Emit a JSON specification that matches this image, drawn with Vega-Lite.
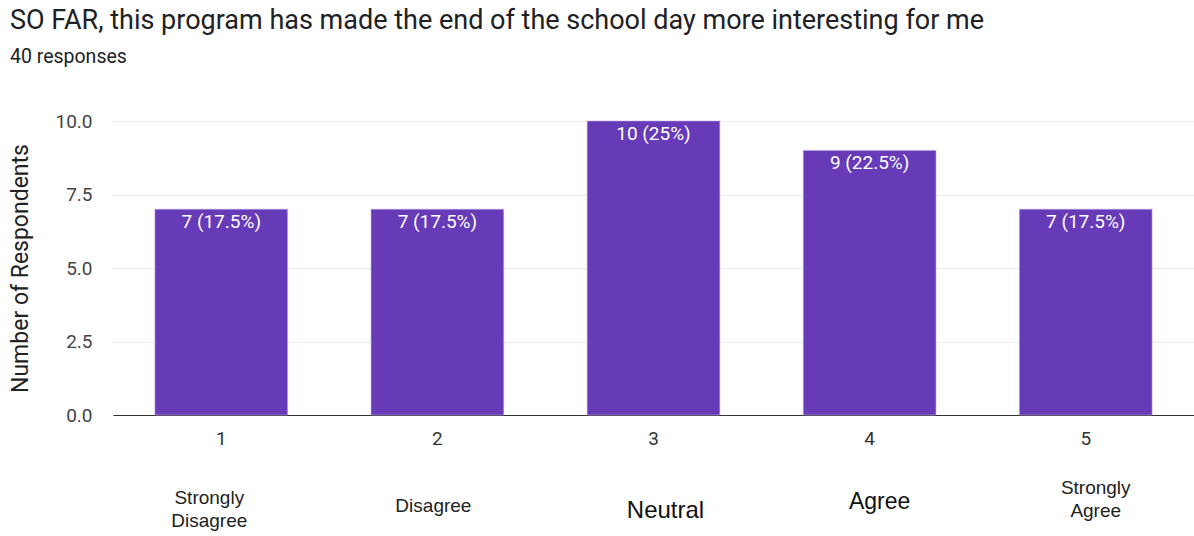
{
  "$schema": "https://vega.github.io/schema/vega-lite/v6.json",
  "autosize": {"type": "none"},
  "width": 1081,
  "height": 294,
  "padding": {"left": 113, "top": 121, "right": 0, "bottom": 121},
  "background": "white",
  "title": {
    "text": "SO FAR, this program has made the end of the school day more interesting for me",
    "subtitle": "40 responses",
    "anchor": "start",
    "frame": "bounds",
    "font": "Roboto",
    "fontSize": 27,
    "fontWeight": "normal",
    "color": "#202124",
    "subtitleFont": "Roboto",
    "subtitleFontSize": 19.5,
    "subtitleColor": "#202124",
    "subtitlePadding": 13,
    "offset": 45
  },
  "data": {
    "values": [
      {"answer": "1", "count": 7, "label": "7 (17.5%)", "category": "Strongly Disagree"},
      {"answer": "2", "count": 7, "label": "7 (17.5%)", "category": "Disagree"},
      {"answer": "3", "count": 10, "label": "10 (25%)", "category": "Neutral"},
      {"answer": "4", "count": 9, "label": "9 (22.5%)", "category": "Agree"},
      {"answer": "5", "count": 7, "label": "7 (17.5%)", "category": "Strongly Agree"}
    ]
  },
  "config": {
    "view": {"stroke": null},
    "axis": {"labelFont": "Roboto", "titleFont": "Roboto"}
  },
  "encoding": {
    "x": {
      "field": "answer",
      "type": "nominal",
      "sort": null,
      "scale": {"paddingInner": 0.386, "paddingOuter": 0.194},
      "axis": {
        "title": null,
        "labelAngle": 0,
        "labelFontSize": 19,
        "labelColor": "#333333",
        "labelPadding": 14,
        "ticks": false,
        "domainColor": "#333333",
        "domainWidth": 1.2,
        "grid": false
      }
    }
  },
  "layer": [
    {
      "mark": {"type": "bar", "color": "#673ab7", "stroke": "#b9a6e0", "strokeWidth": 0.6},
      "encoding": {
        "y": {
          "field": "count",
          "type": "quantitative",
          "scale": {"domain": [0, 10], "nice": false},
          "axis": {
            "title": "Number of Respondents",
            "titleFontSize": 23,
            "titleFontWeight": "normal",
            "titleColor": "#222222",
            "titlePadding": 22,
            "values": [0, 2.5, 5, 7.5, 10],
            "format": ".1f",
            "labelFontSize": 19,
            "labelColor": "#444444",
            "labelPadding": 21,
            "ticks": false,
            "domain": false,
            "gridColor": "#ebebeb",
            "gridWidth": 1.2
          }
        }
      }
    },
    {
      "mark": {"type": "text", "color": "white", "font": "Roboto", "fontSize": 19, "baseline": "middle", "dy": 13},
      "encoding": {
        "y": {"field": "count", "type": "quantitative"},
        "text": {"field": "label"}
      }
    },
    {
      "transform": [{"filter": "datum.category === 'Strongly Disagree'"}],
      "mark": {"type": "text", "font": "Liberation Sans", "fontSize": 19, "color": "#222222", "lineBreak": " ", "lineHeight": 23, "baseline": "middle", "dx": -12, "dy": 83},
      "encoding": {"y": {"datum": 0, "type": "quantitative"}, "text": {"field": "category"}}
    },
    {
      "transform": [{"filter": "datum.category === 'Disagree'"}],
      "mark": {"type": "text", "font": "Liberation Sans", "fontSize": 19, "color": "#222222", "baseline": "middle", "dx": -4, "dy": 91},
      "encoding": {"y": {"datum": 0, "type": "quantitative"}, "text": {"field": "category"}}
    },
    {
      "transform": [{"filter": "datum.category === 'Neutral'"}],
      "mark": {"type": "text", "font": "Liberation Sans", "fontSize": 24, "color": "#111111", "baseline": "middle", "dx": 12, "dy": 96},
      "encoding": {"y": {"datum": 0, "type": "quantitative"}, "text": {"field": "category"}}
    },
    {
      "transform": [{"filter": "datum.category === 'Agree'"}],
      "mark": {"type": "text", "font": "Liberation Sans", "fontSize": 23, "color": "#111111", "baseline": "middle", "dx": 10, "dy": 87},
      "encoding": {"y": {"datum": 0, "type": "quantitative"}, "text": {"field": "category"}}
    },
    {
      "transform": [{"filter": "datum.category === 'Strongly Agree'"}],
      "mark": {"type": "text", "font": "Liberation Sans", "fontSize": 19, "color": "#222222", "lineBreak": " ", "lineHeight": 23, "baseline": "middle", "dx": 10, "dy": 73},
      "encoding": {"y": {"datum": 0, "type": "quantitative"}, "text": {"field": "category"}}
    }
  ]
}
